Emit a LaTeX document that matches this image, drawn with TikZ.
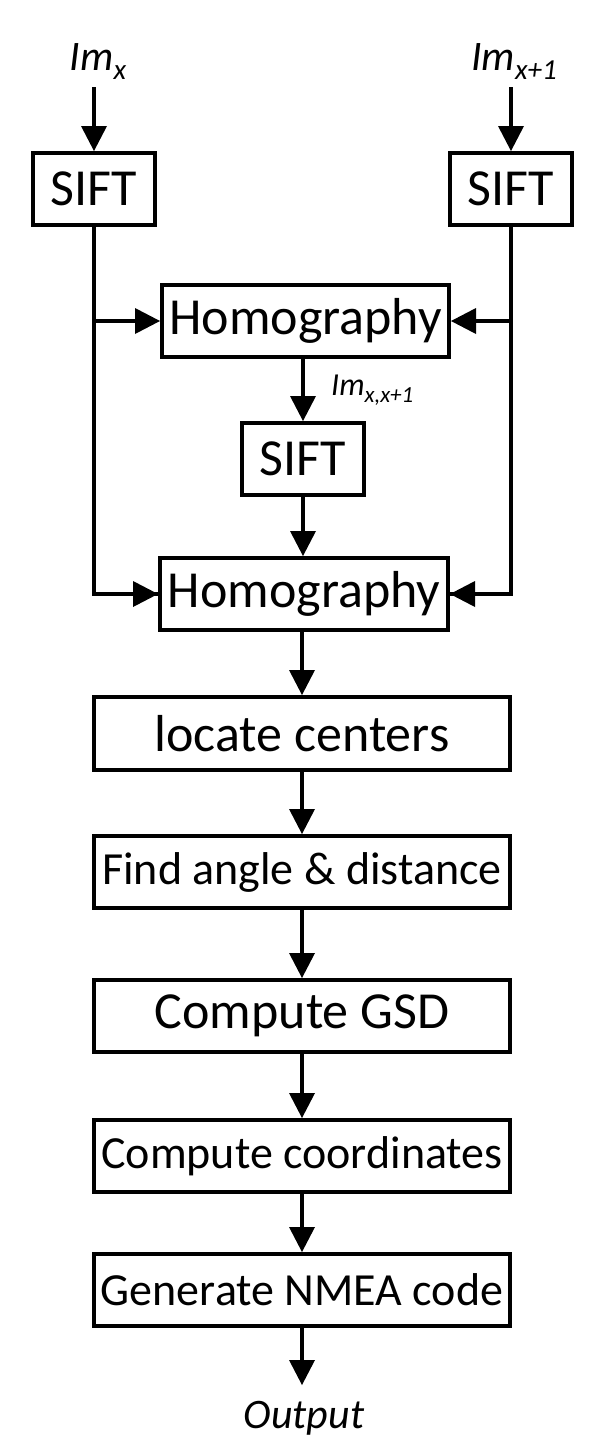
\documentclass[tikz,border=0pt]{standalone}
\usepackage{fontspec}
\setmainfont{Carlito}
\usetikzlibrary{arrows.meta}
\begin{document}
\begin{tikzpicture}[x=1pt,y=-1pt,
  box/.style={draw, line width=4pt, minimum height=72pt, inner sep=0pt, font=\fontsize{52}{60}\selectfont},
  sbox/.style={box, font=\fontsize{46}{54}\selectfont},
  conn/.style={line width=4pt, -{Triangle[length=25pt,width=26pt,line width=0pt]}},
  plain/.style={line width=4pt},
  lbl/.style={inner sep=0pt, anchor=base, font=\fontsize{42}{48}\selectfont\itshape}]
\useasboundingbox (0,0) rectangle (591,1452);
% nodes
\node[box, minimum width=122pt] (sift1) at (94,189) {SIFT};
\node[box, minimum width=122pt] (sift2) at (511,189) {SIFT};
\node[box, minimum width=287pt] (hom1) at (305.5,321) {Homography};
\node[box, minimum width=122pt] (sift3) at (303,459) {SIFT};
\node[box, minimum width=288pt] (hom2) at (304,594) {Homography};
\node[box, minimum width=416pt, minimum height=73pt] (loc) at (302,733.5) {locate centers};
\node[sbox, minimum width=416pt] (find) at (302,872) {Find angle \& distance};
\node[box, minimum width=416pt] (gsd) at (302,1016) {Compute GSD};
\node[sbox, minimum width=416pt] (coord) at (302,1156) {Compute coordinates};
\node[sbox, minimum width=416pt] (nmea) at (302,1290) {Generate NMEA code};
% labels
\node[lbl] (imx) at (98,70) {Im\raisebox{-0.22em}{\fontsize{29}{29}\selectfont x}};
\node[lbl] (imx1) at (514,70) {Im\raisebox{-0.22em}{\fontsize{29}{29}\selectfont x+1}};
\node[lbl, anchor=base west, font=\fontsize{32}{36}\selectfont\itshape] (imxx) at (331,395) {Im\raisebox{-0.22em}{\fontsize{23}{23}\selectfont x,x+1}};
\node[lbl] (out) at (304,1428) {Output};
\coordinate (in1) at (94,87);
\coordinate (in2) at (511,87);
% connectors
\draw[conn] (in1) -- (sift1.north);
\draw[conn] (in2) -- (sift2.north);
\draw[plain] (sift1.south) |- (hom2.west);
\draw[plain] (sift2.south) |- (hom2.east);
\draw[conn] (sift1.south |- hom1.west) -- (hom1.west);
\draw[conn] (sift2.south |- hom1.east) -- (hom1.east);
\draw[conn] (sift1.south |- hom2.west) -- (hom2.west);
\draw[conn] (sift2.south |- hom2.east) -- (hom2.east);
\draw[conn] (hom1.south -| sift3.north) -- (sift3.north);
\draw[conn] (sift3.south) -- (sift3.south |- hom2.north);
\draw[conn] (hom2.south -| loc.north) -- (loc.north);
\draw[conn] (loc.south) -- (find.north);
\draw[conn] (find.south) -- (gsd.north);
\draw[conn] (gsd.south) -- (coord.north);
\draw[conn] (coord.south) -- (nmea.north);
\draw[conn] (nmea.south) -- ++(0,57);
\end{tikzpicture}
\end{document}
